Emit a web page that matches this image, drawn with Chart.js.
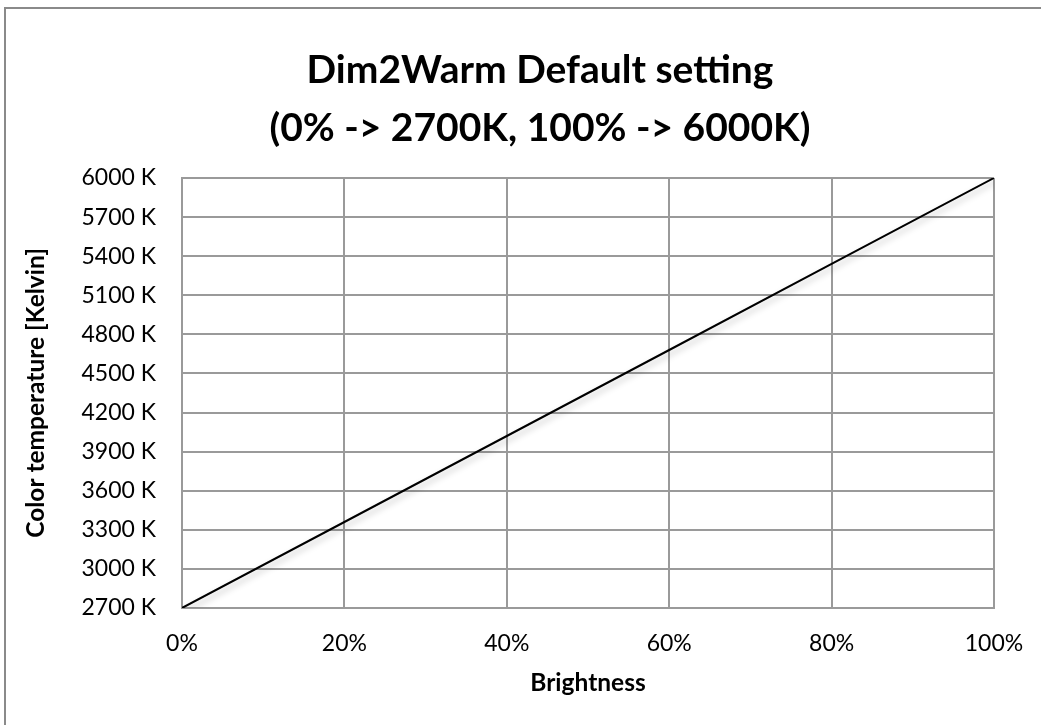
<!DOCTYPE html>
<html>
<head>
<meta charset="utf-8">
<script src="https://cdn.jsdelivr.net/npm/chart.js@4"></script>
<style>
  html, body { margin: 0; padding: 0; background: #fff; overflow: hidden; }
  #frame {
    position: absolute; left: 4px; top: 7px;
    width: 1100px; height: 760px;
    border-left: 2px solid #8a8a8a; border-top: 2px solid #8a8a8a;
  }
  #chart { position: absolute; left: -1px; top: 9px; }
</style>
</head>
<body>
<div id="frame"></div>
<canvas id="chart" width="1082" height="716"></canvas>
<script>
// values
const brightness = [0, 20, 40, 60, 80, 100];
const colorTemp = [2700, 3360, 4020, 4680, 5340, 6000];
const titleLines = ["Dim2Warm Default setting", "(0% -> 2700K, 100% -> 6000K)"];
const xTitle = "Brightness";
const yTitle = "Color temperature [Kelvin]";

Chart.defaults.font.family = "Lato, 'Open Sans', sans-serif";
Chart.defaults.color = "#000";

const gridColor = "#9a9a9a";

// soft shadow under the line like the office chart
const lineShadow = {
  id: "lineShadow",
  beforeDatasetsDraw(chart) {
    const ctx = chart.ctx;
    ctx.save();
    ctx.shadowColor = "rgba(0,0,0,0.25)";
    ctx.shadowBlur = 6;
    ctx.shadowOffsetX = 3;
    ctx.shadowOffsetY = 3;
  },
  afterDatasetsDraw(chart) {
    chart.ctx.restore();
  }
};

const ctx = document.getElementById("chart").getContext("2d");
new Chart(ctx, {
  type: "line",
  data: {
    datasets: [
      {
        data: brightness.map((b, i) => ({ x: b, y: colorTemp[i] })),
        borderColor: "#000",
        borderWidth: 2,
        pointRadius: 0,
        fill: false,
        tension: 0
      }
    ]
  },
  options: {
    responsive: false,
    animation: false,
    layout: { padding: { left: 0, right: 0, top: 0, bottom: 17 } },
    plugins: {
      legend: { display: false },
      tooltip: { enabled: false },
      title: {
        display: true,
        text: titleLines,
        font: { size: 39, weight: "bold", lineHeight: 1.487 },
        padding: { top: 32, bottom: 21 }
      }
    },
    scales: {
      x: {
        type: "linear",
        min: 0,
        max: 100,
        ticks: {
          stepSize: 20,
          padding: 22,
          font: { size: 23 },
          callback: (v) => v + "%"
        },
        grid: { color: gridColor, lineWidth: 2, drawTicks: false },
        border: { color: gridColor, width: 2 },
        title: {
          display: true,
          text: xTitle,
          font: { size: 24.5, weight: "bold" },
          padding: { top: 0, bottom: 10 }
        },
        afterFit: (scale) => {
          scale.height = 100;
          scale.paddingRight = 87;
        }
      },
      y: {
        min: 2700,
        max: 6000,
        ticks: {
          stepSize: 300,
          padding: 26,
          font: { size: 23 },
          callback: (v) => v + " K"
        },
        grid: { color: gridColor, lineWidth: 2, drawTicks: false },
        border: { color: gridColor, width: 2 },
        title: {
          display: true,
          text: yTitle,
          font: { size: 24.5, weight: "bold" },
          padding: { top: 22, bottom: 0 }
        },
        afterFit: (scale) => { scale.width = 183; }
      }
    }
  },
  plugins: [lineShadow]
});
</script>
</body>
</html>
